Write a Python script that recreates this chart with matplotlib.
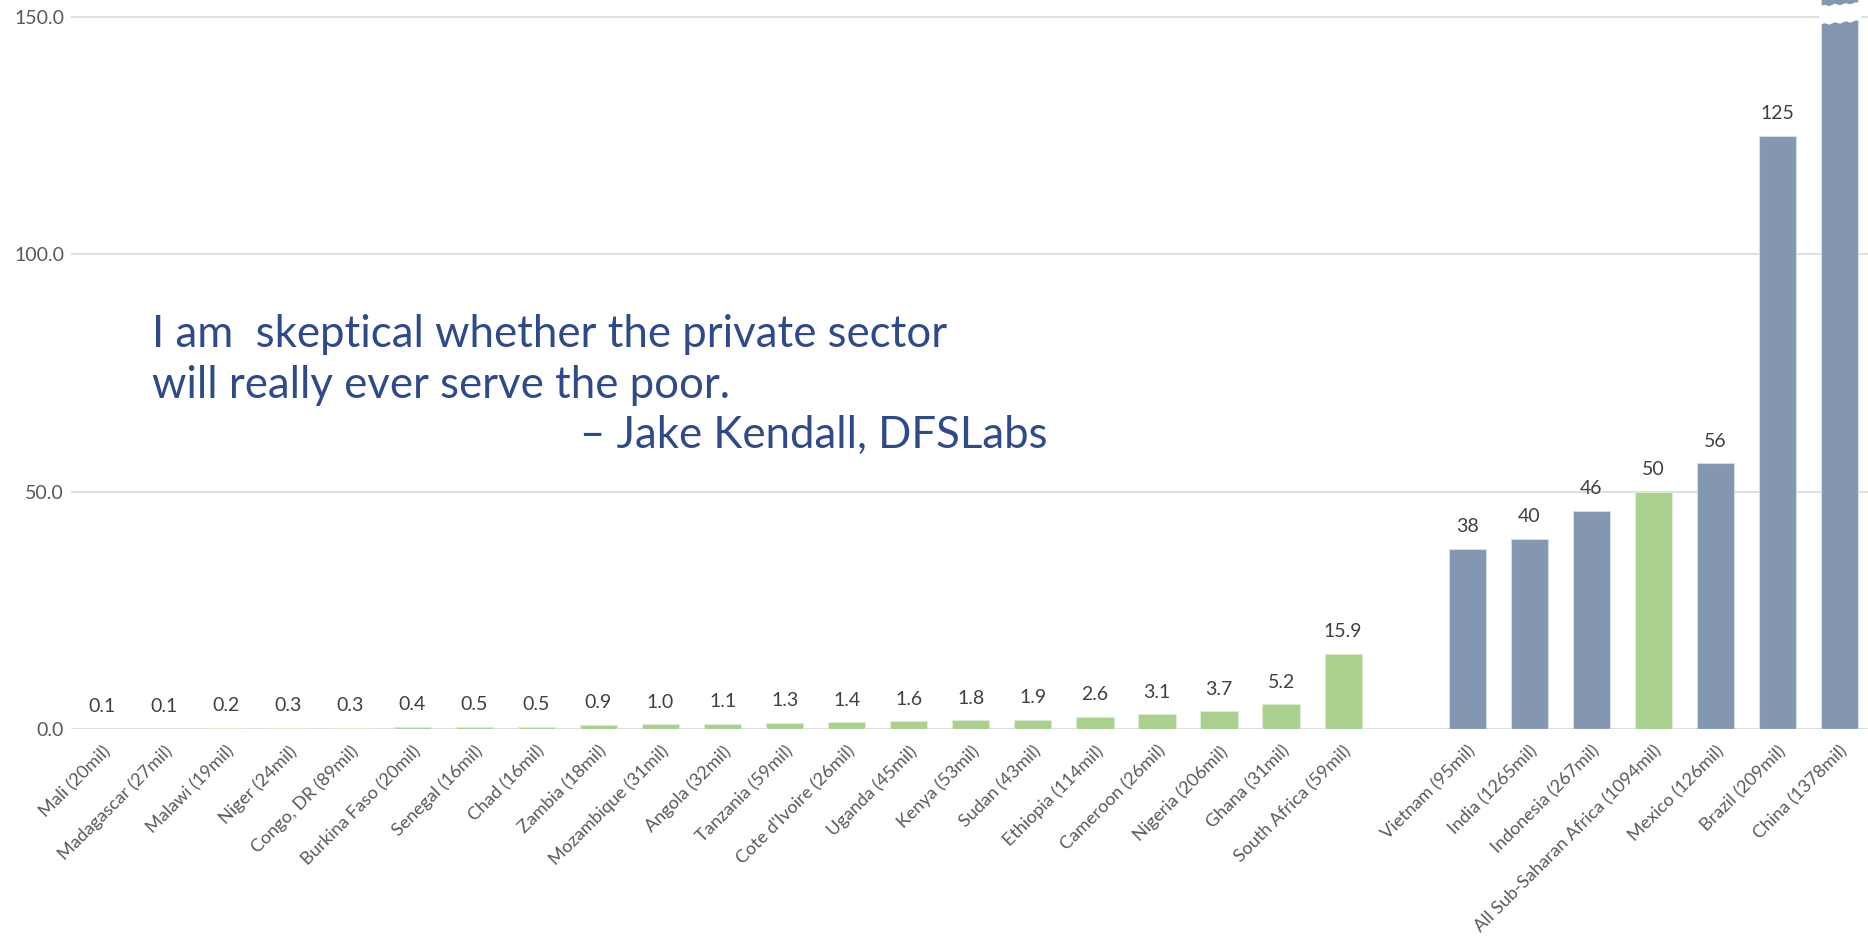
import numpy as np
import matplotlib.pyplot as plt

countries = ["Mali (20mil)", "Madagascar (27mil)", "Malawi (19mil)", "Niger (24mil)",
             "Congo, DR (89mil)", "Burkina Faso (20mil)", "Senegal (16mil)", "Chad (16mil)",
             "Zambia (18mil)", "Mozambique (31mil)", "Angola (32mil)", "Tanzania (59mil)",
             "Cote d'Ivoire (26mil)", "Uganda (45mil)", "Kenya (53mil)", "Sudan (43mil)",
             "Ethiopia (114mil)", "Cameroon (26mil)", "Nigeria (206mil)", "Ghana (31mil)",
             "South Africa (59mil)"]
values = [0.1, 0.1, 0.2, 0.3, 0.3, 0.4, 0.5, 0.5, 0.9, 1.0, 1.1, 1.3, 1.4, 1.6, 1.8,
          1.9, 2.6, 3.1, 3.7, 5.2, 15.9]

others = ["Vietnam (95mil)", "India (1265mil)", "Indonesia (267mil)",
          "All Sub-Saharan Africa (1094mil)", "Mexico (126mil)", "Brazil (209mil)",
          "China (1378mil)"]
other_values = [38, 40, 46, 50, 56, 125, 160]
other_labels = ["38", "40", "46", "50", "56", "125", ""]
other_is_africa = [False, False, False, True, False, False, False]

yticks = [0, 50, 100, 150]

green = "#A9D08E"
blue = "#8497B0"
grey_txt = "#595959"
lab_txt = "#404040"
quote_col = "#2F4A8A"

W, H = 1868, 938
fig = plt.figure(figsize=(W / 100, H / 100), dpi=100)
left = 71 / W
right = 1870.6 / W
bottom = (H - 729) / H
ax = fig.add_axes([left, bottom, right - left, 1 - bottom])

x1 = np.arange(len(countries))
x2 = np.arange(len(others)) + len(countries) + 1
all_x = np.concatenate([x1, x2])
all_labels = countries + others

ax.bar(x1, values, width=0.6, color=green, edgecolor="#DCEBD2", linewidth=0.8, zorder=3)
cols = [green if a else blue for a in other_is_africa]
edges = ["#DCEBD2" if a else "#D5DCE6" for a in other_is_africa]
ax.bar(x2, other_values, width=0.6, color=cols, edgecolor=edges, linewidth=0.8, zorder=3)

for xi, v in zip(x1, values):
    ax.annotate(f"{v:.1f}", (xi, v), xytext=(0, 12), textcoords="offset points",
                ha="center", va="baseline", fontsize=14, color=lab_txt, family="Lato")
for xi, v, t in zip(x2, other_values, other_labels):
    ax.annotate(t, (xi, v), xytext=(0, 12), textcoords="offset points",
                ha="center", va="baseline", fontsize=14, color=lab_txt, family="Lato")

# broken bar for China
cx = x2[-1]
zx = np.linspace(cx - 0.34, cx + 0.34, 9)
lower = 148.3 + np.array([0, 0.5, 0.2, 0.7, 0.4, 0.9, 0.6, 1.1, 0.9])
upper = 152.3 + np.array([0, 0.4, 0.1, 0.6, 0.3, 0.7, 0.5, 0.9, 0.8])
ax.fill_between(zx, lower, upper, color="white", zorder=4, lw=0)

ax.set_xlim(-0.5, all_x[-1] + 0.5)
ax.set_ylim(0, 150 * 729 / 712)
ax.set_yticks(yticks)
ax.set_yticklabels([f"{t:.1f}" for t in yticks], fontsize=14, color=grey_txt, family="Lato")
ax.tick_params(axis="y", length=0, pad=5)
ax.set_xticks(all_x)
ax.set_xticklabels(all_labels, rotation=45, ha="right", rotation_mode="anchor",
                   fontsize=13, color=grey_txt, family="Lato")
ax.tick_params(axis="x", length=0, pad=10)
ax.grid(axis="y", color="#D9D9D9", lw=1.2, zorder=0)
for s in ax.spines.values():
    s.set_visible(False)

fig.text(152 / W, 1 - 347 / H, "I am  skeptical whether the private sector",
         fontsize=31.5, color=quote_col, family="Lato", va="baseline")
fig.text(152 / W, 1 - 398 / H, "will really ever serve the poor.",
         fontsize=31.5, color=quote_col, family="Lato", va="baseline")
fig.text(580 / W, 1 - 448 / H, "– Jake Kendall, DFSLabs",
         fontsize=31.5, color=quote_col, family="Lato", va="baseline")

fig.savefig("out.png", dpi=100)
